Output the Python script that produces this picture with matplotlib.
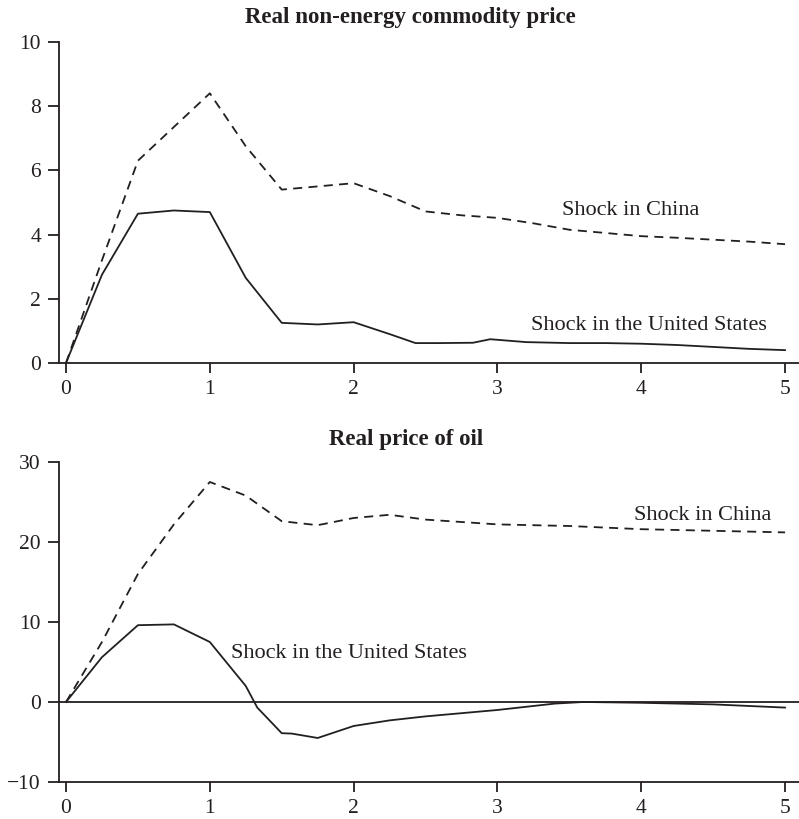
import matplotlib
matplotlib.use("Agg")
import matplotlib.pyplot as plt

plt.rcParams["font.family"] = ["Liberation Serif", "DejaVu Serif"]

INK = "#231f20"

# Real non-energy commodity price (percent, years)
years_china_top = [0, 0.25, 0.5, 0.75, 1.0, 1.25, 1.5, 1.75, 2.0, 2.25, 2.5, 2.75,
                   3.0, 3.25, 3.5, 3.75, 4.0, 4.25, 4.5, 4.75, 5.0]
china_top = [0, 3.2, 6.3, 7.35, 8.4, 6.75, 5.4, 5.5, 5.6, 5.2, 4.72, 4.6,
             4.52, 4.35, 4.15, 4.05, 3.95, 3.9, 3.84, 3.78, 3.7]

years_us_top = [0, 0.25, 0.5, 0.75, 1.0, 1.25, 1.5, 1.75, 2.0, 2.25, 2.43, 2.6,
                2.83, 2.95, 3.2, 3.5, 3.75, 4.0, 4.25, 4.5, 4.75, 5.0]
us_top = [0, 2.75, 4.65, 4.75, 4.7, 2.65, 1.25, 1.2, 1.27, 0.9, 0.62, 0.62,
          0.63, 0.74, 0.65, 0.62, 0.62, 0.6, 0.56, 0.5, 0.44, 0.4]

# Real price of oil
years_china_bot = [0, 0.25, 0.5, 0.75, 1.0, 1.25, 1.5, 1.75, 2.0, 2.25, 2.5, 2.75,
                   3.0, 3.5, 4.0, 4.5, 5.0]
china_bot = [0, 7.5, 16.0, 22.2, 27.5, 25.8, 22.6, 22.1, 23.0, 23.4, 22.8, 22.5,
             22.2, 22.0, 21.6, 21.4, 21.2]

years_us_bot = [0, 0.25, 0.5, 0.75, 1.0, 1.25, 1.33, 1.5, 1.57, 1.75, 2.0, 2.25,
                2.5, 3.0, 3.4, 3.6, 4.0, 4.5, 5.0]
us_bot = [0, 5.6, 9.6, 9.7, 7.5, 2.0, -0.7, -3.9, -3.95, -4.5, -3.0, -2.3,
          -1.8, -1.0, -0.2, 0.0, -0.1, -0.3, -0.7]

fig = plt.figure(figsize=(7.99, 8.19), dpi=100)
ax1 = fig.add_axes([0.0738, 0.5568, 0.9262, 0.392])
ax2 = fig.add_axes([0.0738, 0.0452, 0.9262, 0.3907])


def style_axis(ax, ylim, yticks):
    ax.set_xlim(-0.049, 5.097)
    ax.set_ylim(*ylim)
    ax.set_yticks(yticks)
    ax.set_xticks([0, 1, 2, 3, 4, 5])
    for s in ["top", "right"]:
        ax.spines[s].set_visible(False)
    for s in ["left", "bottom"]:
        ax.spines[s].set_color(INK)
        ax.spines[s].set_linewidth(1.3)
    ax.tick_params(axis="y", direction="out", length=8, width=1.3, color=INK,
                   labelsize=15.5, labelcolor=INK, pad=5)
    ax.tick_params(axis="x", direction="out", length=7.5, width=1.3, color=INK,
                   labelsize=15.5, labelcolor=INK, pad=5)


style_axis(ax1, (0, 10), [0, 2, 4, 6, 8, 10])
ax1.plot(years_china_top, china_top, color=INK, lw=1.3, ls=(0, (5, 3.5)))
ax1.plot(years_us_top, us_top, color=INK, lw=1.3)
ax1.text(3.45, 4.75, "Shock in China", fontsize=16, color=INK, va="center")
ax1.text(3.23, 1.16, "Shock in the United States", fontsize=16, color=INK, va="center")
fig.text(410 / 799, 1 - 18 / 819, "Real non-energy commodity price", fontsize=16.5,
         fontweight="bold", color=INK, ha="center", va="center")

style_axis(ax2, (-10, 30), [-10, 0, 10, 20, 30])
ax2.axhline(0, color=INK, lw=1.3)
ax2.plot(years_china_bot, china_bot, color=INK, lw=1.3, ls=(0, (5, 3.5)))
ax2.plot(years_us_bot, us_bot, color=INK, lw=1.3)
ax2.text(3.95, 23.3, "Shock in China", fontsize=16, color=INK, va="center")
ax2.text(1.15, 6.1, "Shock in the United States", fontsize=16, color=INK, va="center")
fig.text(406 / 799, 1 - 440 / 819, "Real price of oil", fontsize=16.5,
         fontweight="bold", color=INK, ha="center", va="center")
ax2.set_yticklabels(["\u221210", "0", "10", "20", "30"])

fig.savefig("out.png", dpi=100)
